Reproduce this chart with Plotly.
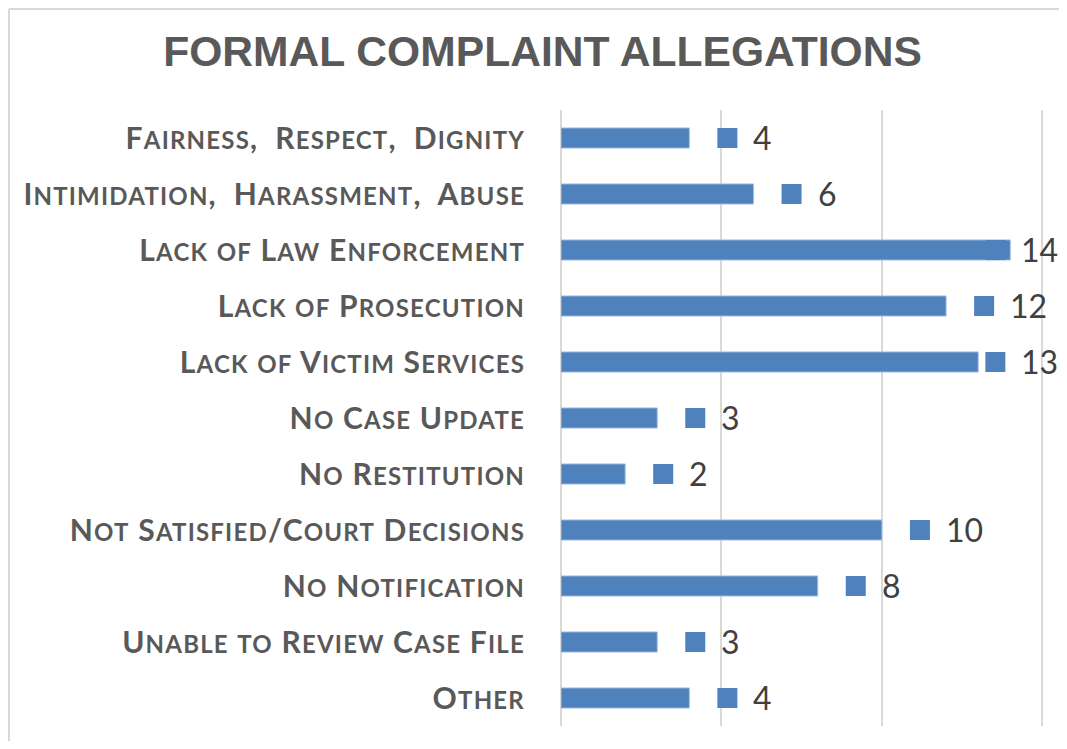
import plotly.graph_objects as go

categories = [
    "Fairness,  Respect,  Dignity",
    "Intimidation,  Harassment,  Abuse",
    "Lack of Law Enforcement",
    "Lack of Prosecution",
    "Lack of Victim Services",
    "No Case Update",
    "No Restitution",
    "Not Satisfied/Court Decisions",
    "No Notification",
    "Unable to Review Case File",
    "Other",
]
values = [4, 6, 14, 12, 13, 3, 2, 10, 8, 3, 4]
title_text = "FORMAL COMPLAINT ALLEGATIONS"

BAR_COLOR = "#4F81BD"
LABEL_COLOR = "#595959"
BIG = 30
SMALL = 24
SPACING = 1.2
LABEL_CLAMP = 12.35  # data units; labels pushed left past this point
X_MAX = 15.05

W, H = 1051, 733
PX_PER_UNIT = 32.07
pl, pt, pb = 553, 102, 718
pr = round(pl + X_MAX * PX_PER_UNIT)
pw, ph = pr - pl, pb - pt


def small_caps(s, big=BIG, small=SMALL):
    s = s.replace("  ", " \u00a0")
    out = []
    run = ""
    cur = None
    for ch in s:
        kind = "s" if ch.islower() else "b"
        if cur is not None and kind != cur:
            size = small if cur == "s" else big
            out.append(f'<span style="font-size:{size}px;letter-spacing:{SPACING}px">{run.upper()}</span>')
            run = ""
        cur = kind
        run += ch
    if run:
        size = small if cur == "s" else big
        out.append(f'<span style="font-size:{size}px;letter-spacing:{SPACING}px">{run.upper()}</span>')
    return "".join(out)


idx = list(range(len(categories)))

fig = go.Figure()
fig.add_trace(go.Bar(
    x=values,
    y=idx,
    orientation="h",
    width=0.36,
    marker=dict(color=BAR_COLOR, line=dict(color="#A9C1DF", width=1)),
    hoverinfo="skip",
))

shapes = []
annotations = []
for i, v in enumerate(values):
    anchor = min(v, LABEL_CLAMP)
    shapes.append(dict(
        type="rect", xref="x", yref="y",
        xsizemode="pixel", xanchor=anchor, x0=28, x1=48,
        ysizemode="pixel", yanchor=i, y0=-10, y1=10,
        fillcolor=BAR_COLOR, line=dict(width=0), layer="above",
    ))
    annotations.append(dict(
        x=anchor, y=i, xref="x", yref="y",
        text=str(v), showarrow=False,
        xanchor="left", yanchor="middle", xshift=62, yshift=1,
        font=dict(family="Lato", size=32, color="#404040"),
    ))

# outer chart border: left and top edges
bx = (1 - pl) / pw
by = 1 + (pt - 1) / ph
shapes.append(dict(type="line", xref="paper", yref="paper",
                   x0=bx, x1=bx, y0=-0.2, y1=by,
                   line=dict(color="#D9D9D9", width=2), layer="below"))
shapes.append(dict(type="line", xref="paper", yref="paper",
                   x0=bx, x1=1.2, y0=by, y1=by,
                   line=dict(color="#D9D9D9", width=2), layer="below"))

fig.update_layout(
    width=W, height=H,
    margin=dict(l=pl, r=W - pr, t=pt, b=H - pb, pad=0),
    paper_bgcolor="white", plot_bgcolor="white",
    showlegend=False,
    title=dict(
        text=f"<b>{title_text}</b>",
        x=534.5 / W, xref="container", xanchor="center",
        y=1 - 43.5 / H, yref="container", yanchor="middle",
        font=dict(family="Liberation Sans", size=42.6, color=LABEL_COLOR),
    ),
    xaxis=dict(
        range=[0, X_MAX], tick0=0, dtick=5, showticklabels=False,
        showgrid=True, gridcolor="#D9D9D9", gridwidth=1.5,
        zeroline=True, zerolinecolor="#D9D9D9", zerolinewidth=1.5,
        showline=False, fixedrange=True,
    ),
    yaxis=dict(
        range=[len(categories) - 0.5, -0.5],
        tickmode="array", tickvals=idx,
        ticktext=[small_caps(c) for c in categories],
        ticks="", ticklabelstandoff=35,
        tickfont=dict(family="Lato", size=BIG, color=LABEL_COLOR, weight="bold"),
        showgrid=False, zeroline=False, showline=False,
    ),
    shapes=shapes,
    annotations=annotations,
)

fig.write_html("out.html")
